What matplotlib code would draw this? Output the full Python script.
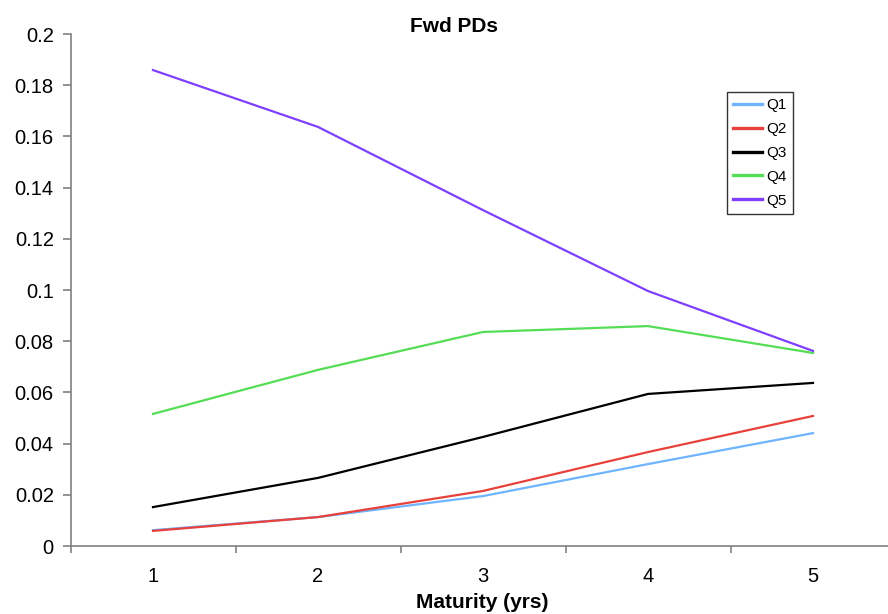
import matplotlib.pyplot as plt
from matplotlib.ticker import FixedLocator, NullFormatter

plt.rcParams['font.family'] = ['Liberation Sans', 'DejaVu Sans']

# values
maturity = [1, 2, 3, 4, 5]
q1 = [0.0062, 0.0113, 0.0195, 0.0320, 0.0441]
q2 = [0.0059, 0.0113, 0.0215, 0.0367, 0.0508]
q3 = [0.0152, 0.0266, 0.0426, 0.0594, 0.0637]
q4 = [0.0516, 0.0688, 0.0836, 0.0859, 0.0754]
q5 = [0.1859, 0.1637, 0.1312, 0.0996, 0.0762]

series = [("Q1", q1, "#6fb4ff"), ("Q2", q2, "#e8413c"), ("Q3", q3, "#000000"),
          ("Q4", q4, "#55dd55"), ("Q5", q5, "#7f3fff")]

fig = plt.figure(figsize=(8.88, 6.14), dpi=100)
W, H = 888, 614
ax = fig.add_axes([70.5 / W, 1 - 546 / H, 825 / W, 512 / H])

for name, vals, col in series:
    ax.plot(maturity, vals, color=col, lw=1.6, label=name)

ax.set_xlim(0.5, 5.5)
ax.set_ylim(0, 0.2)
ax.set_yticks([0, 0.02, 0.04, 0.06, 0.08, 0.1, 0.12, 0.14, 0.16, 0.18, 0.2])
ax.set_yticklabels(["0", "0.02", "0.04", "0.06", "0.08", "0.1", "0.12", "0.14",
                    "0.16", "0.18", "0.2"])
ax.set_xticks(maturity)
ax.set_xticklabels([str(m) for m in maturity])
ax.xaxis.set_minor_locator(FixedLocator([0.5, 1.5, 2.5, 3.5, 4.5, 5.5]))
ax.xaxis.set_minor_formatter(NullFormatter())
ax.tick_params(axis='x', which='major', length=0, pad=15, labelsize=14.5)
ax.tick_params(axis='x', which='minor', length=5, color='#808080', width=1.2)
ax.tick_params(axis='y', length=6, color='#808080', width=1.2, labelsize=14.5, pad=6)

for s in ['top', 'right']:
    ax.spines[s].set_visible(False)
for s in ['left', 'bottom']:
    ax.spines[s].set_color('#808080')
    ax.spines[s].set_linewidth(1.2)

fig.text(454 / W, 1 - 27 / H, "Fwd PDs", ha='center', va='center',
         fontsize=15, fontweight='bold')
fig.text(482 / W, 1 - 603 / H, "Maturity (yrs)", ha='center', va='center',
         fontsize=15, fontweight='bold')

leg = ax.legend(loc='upper left', bbox_to_anchor=((727 - 70.5) / 825, 1 - (92 - 34) / 512),
                fontsize=11, frameon=True, fancybox=False, borderaxespad=0,
                handlelength=1.85, labelspacing=0.64, borderpad=0.42, handletextpad=0.28)
leg.get_frame().set_edgecolor('black')
leg.get_frame().set_linewidth(1.0)
for h in leg.get_lines():
    h.set_linewidth(2.4)

fig.savefig("out.png", dpi=100)
